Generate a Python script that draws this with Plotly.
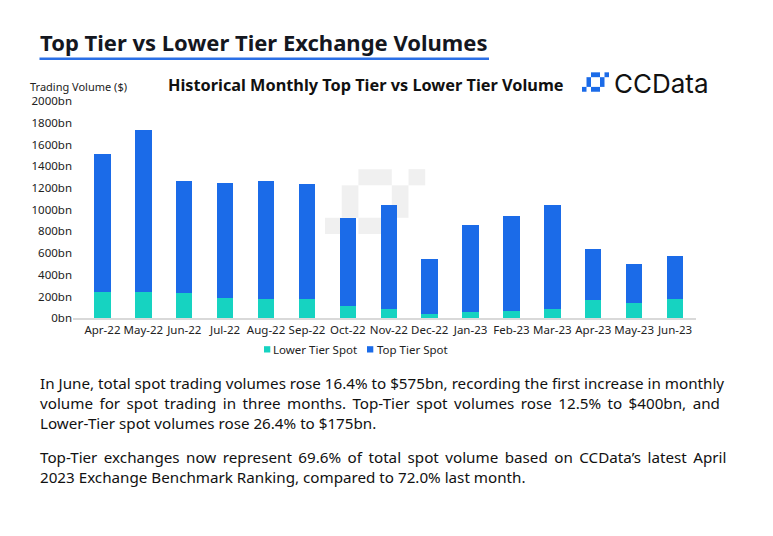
import plotly.graph_objects as go

W, H = 773, 536
OFF = 8  # page body margin around the plot div

months = ["Apr-22", "May-22", "Jun-22", "Jul-22", "Aug-22", "Sep-22", "Oct-22", "Nov-22",
          "Dec-22", "Jan-23", "Feb-23", "Mar-23", "Apr-23", "May-23", "Jun-23"]
lower_tier = [238, 244, 235, 190, 179, 179, 110, 86, 38, 56, 68, 83, 166, 140, 175]
total_spot = [1514, 1735, 1264, 1249, 1264, 1240, 924, 1040, 542, 859, 942, 1040, 635, 497, 578]
top_tier = [t - l for t, l in zip(total_spot, lower_tier)]

ytick_vals = list(range(0, 2001, 200))
ytick_text = ["%dbn" % v for v in ytick_vals]

para1 = ["In June, total spot trading volumes rose 16.4% to $575bn, recording the first increase in monthly",
         "volume for spot trading in three months. Top-Tier spot volumes rose 12.5% to $400bn, and",
         "Lower-Tier spot volumes rose 26.4% to $175bn."]
para2 = ["Top-Tier exchanges now represent 69.6% of total spot volume based on CCData’s latest April",
         "2023 Exchange Benchmark Ranking, compared to 72.0% last month."]
# extra word spacing to mimic the justified lines
pad1 = ["", "\u2009", ""]
pad2 = ["\u2009", ""]

BLUE = "#1b6be8"
TEAL = "#16d3c1"
DARK = "#14171f"
FONT = "Noto Sans"

FW, FH = W - 2 * OFF, H - 2 * OFF


def px(x):
    return (x - OFF) / FW


def py(y):
    return 1 - (y - OFF) / FH


def justify(lines, pads):
    return "<br>".join(l.replace(" ", " " + p) for l, p in zip(lines, pads))


fig = go.Figure()
fig.add_trace(go.Bar(x=months, y=lower_tier, name="Lower Tier Spot", marker_color=TEAL,
                     marker_line_width=0))
fig.add_trace(go.Bar(x=months, y=top_tier, name="Top Tier Spot", marker_color=BLUE,
                     marker_line_width=0))

fig.update_layout(
    width=FW, height=FH,
    margin=dict(l=0, r=0, t=0, b=0),
    paper_bgcolor="white", plot_bgcolor="rgba(0,0,0,0)",
    barmode="stack", bargap=0.6, showlegend=False,
    font=dict(family=FONT, color=DARK),
    xaxis=dict(domain=[px(73), px(695.5)], range=[-0.72, 14.5], showgrid=False,
               showline=True, linecolor="#d9d9d9", linewidth=1.5, ticks="", tickangle=0,
               tickfont=dict(size=11.5, color="#222")),
    yaxis=dict(domain=[py(319.3), py(95.7)], range=[0, 2000], showgrid=False,
               zeroline=False, tickvals=ytick_vals, ticktext=ytick_text, ticks="",
               tickfont=dict(size=11.5, color="#222")),
)

shapes = []
# watermark logo behind bars
u = 16.7
ox, oy = 325, 165.7
cells = [(2, 0, 2, 1), (5, 0, 1, 1), (1, 1, 1, 2), (4, 1, 1, 2), (0, 3, 1, 1), (2, 3, 2, 1)]
for c, r, w, h in cells:
    shapes.append(dict(type="rect", xref="paper", yref="paper", layer="below",
                       x0=px(ox + c * u), x1=px(ox + (c + w) * u),
                       y0=py(oy + r * u), y1=py(oy + (r + h) * u),
                       fillcolor="#f0f0f0", line_width=0))
# small blue logo icon
lu_x, lu_y = 4.5, 5.0
lx, ly = 582, 66
for c, r, w, h in cells:
    shapes.append(dict(type="rect", xref="paper", yref="paper",
                       x0=px(lx + c * lu_x), x1=px(lx + (c + w) * lu_x),
                       y0=py(ly + r * lu_y), y1=py(ly + (r + h) * lu_y),
                       fillcolor=BLUE, line_width=0))
# legend squares
for x0, col in [(264, TEAL), (367, BLUE)]:
    shapes.append(dict(type="rect", xref="paper", yref="paper", x0=px(x0), x1=px(x0 + 6.3),
                       y0=py(348), y1=py(354.5), fillcolor=col, line_width=0))
# title underline
shapes.append(dict(type="rect", xref="paper", yref="paper", x0=px(39.5), x1=px(489),
                   y0=py(50.7), y1=py(53.3), fillcolor="#2a6fe6", line_width=0))
fig.update_layout(shapes=shapes)

ann = []
ann.append(dict(text="<b>Top Tier vs Lower Tier Exchange Volumes</b>", x=px(38), y=py(35),
                font=dict(size=22, color=DARK)))
ann.append(dict(text="<b>Historical Monthly Top Tier vs Lower Tier Volume</b>", x=px(166), y=py(79),
                font=dict(size=16.3, color="#111")))
ann.append(dict(text="CCData", x=px(612), y=py(77), font=dict(size=26, color="#111", family="Inter")))
ann.append(dict(text="Trading Volume ($)", x=px(28), y=py(81), font=dict(size=11, color="#222")))
ann.append(dict(text="Lower Tier Spot", x=px(270.5), y=py(351), font=dict(size=11.5, color="#222")))
ann.append(dict(text="Top Tier Spot", x=px(374.5), y=py(351), font=dict(size=11.5, color="#222")))
ann.append(dict(text=justify(para1, pad1), x=px(38), y=py(406.5), align="left",
                font=dict(size=15.2, color="#111")))
ann.append(dict(text=justify(para2, pad2), x=px(38), y=py(472), align="left",
                font=dict(size=15.2, color="#111")))
for a in ann:
    a.update(xref="paper", yref="paper", xanchor="left", yanchor="middle", showarrow=False)
fig.update_layout(annotations=ann)

fig.write_html("out.html")
